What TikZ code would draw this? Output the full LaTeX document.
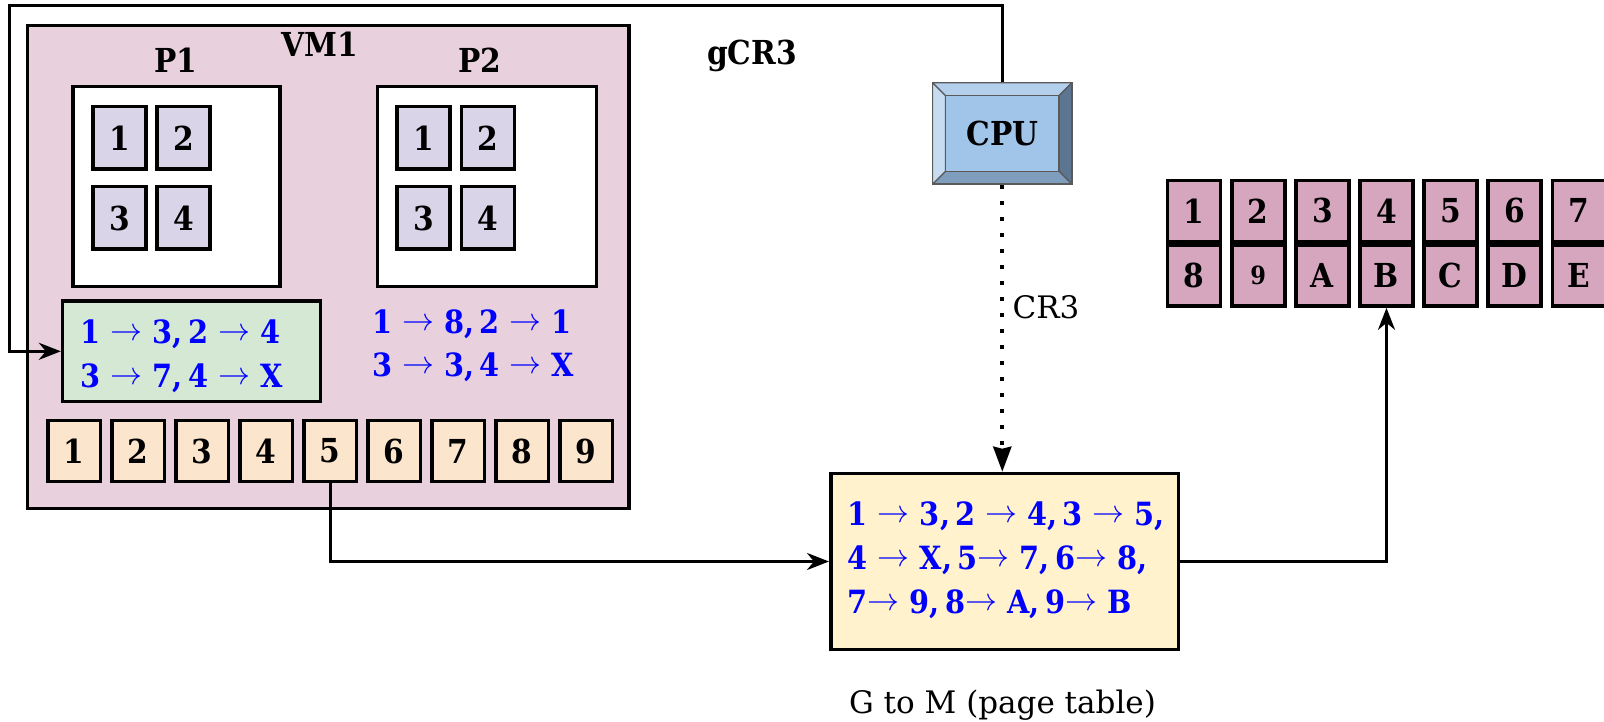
\documentclass[tikz,border=0pt]{standalone}
\usepackage{fix-cm}
\usepackage{fontspec}
\setmainfont{DejaVu Serif}
\IfFontExistsTF{DejaVu Serif Condensed}
  {\newfontfamily\condfont{DejaVu Serif Condensed}}
  {\newfontfamily\condfont{DejaVu Serif}[FakeStretch=0.9]}
\usetikzlibrary{arrows.meta}

\definecolor{vmfill}{HTML}{E8D1DD}
\definecolor{pagefill}{HTML}{D9D4E8}
\definecolor{gptfill}{HTML}{D5E8D4}
\definecolor{gpagefill}{HTML}{FCE5CD}
\definecolor{mpagefill}{HTML}{D6A6BF}
\definecolor{eptfill}{HTML}{FFF2CC}
\definecolor{maptext}{HTML}{0000FF}
\definecolor{cputop}{HTML}{B3CFEB}
\definecolor{cpuleft}{HTML}{C7DCF1}
\definecolor{cpuright}{HTML}{5C7590}
\definecolor{cpubottom}{HTML}{7F9DBD}
\definecolor{cpufront}{HTML}{A1C5E9}
\definecolor{cpuedge}{HTML}{5A5A5A}

\newcommand\toarr{\raisebox{3pt}{$\rightarrow$}}
\newcommand\smallnine{{\fontsize{25}{25}\selectfont 9}}

\tikzset{
  lbl/.style={font=\condfont\bfseries\fontsize{33}{40}\selectfont},
  plainlbl/.style={font=\rmfamily\fontsize{31}{40}\selectfont},
  maptxt/.style={font=\condfont\bfseries\fontsize{32}{44}\selectfont, text=maptext, inner sep=0},
  boxline/.style={draw=black, line width=3.5pt},
  bigbox/.style={boxline, inner sep=0},
  cell/.style={boxline, inner sep=0, lbl},
  vpage/.style={cell, fill=pagefill, minimum width=53pt, minimum height=62.5pt},
  gpage/.style={cell, fill=gpagefill, minimum width=52.5pt, minimum height=61pt},
  mpage/.style={cell, fill=mpagefill, minimum width=53pt, minimum height=61pt},
  conn/.style={line width=3pt, -{Stealth[length=22pt,width=17pt,inset=7pt]}},
  dotconn/.style={line width=4pt, dash pattern=on 4pt off 12pt,
    -{Stealth[length=25pt,width=18pt,inset=2pt]}},
  cpubox/.style={minimum width=139.5pt, minimum height=101.5pt, inner sep=0,
    draw=cpuedge, line width=1.5pt, lbl,
    path picture={
      \path (path picture bounding box.north west) coordinate (cnw)
            (path picture bounding box.north east) coordinate (cne)
            (path picture bounding box.south east) coordinate (cse)
            (path picture bounding box.south west) coordinate (csw);
      \coordinate (inw) at ([shift={(13pt,-13pt)}]cnw);
      \coordinate (ine) at ([shift={(-13pt,-13pt)}]cne);
      \coordinate (ise) at ([shift={(-13pt,13pt)}]cse);
      \coordinate (isw) at ([shift={(13pt,13pt)}]csw);
      \filldraw[fill=cputop, draw=cpuedge, line width=1.2pt] (cnw) -- (cne) -- (ine) -- (inw) -- cycle;
      \filldraw[fill=cpuright, draw=cpuedge, line width=1.2pt] (cne) -- (cse) -- (ise) -- (ine) -- cycle;
      \filldraw[fill=cpubottom, draw=cpuedge, line width=1.2pt] (cse) -- (csw) -- (isw) -- (ise) -- cycle;
      \filldraw[fill=cpuleft, draw=cpuedge, line width=1.2pt] (csw) -- (cnw) -- (inw) -- (isw) -- cycle;
      \filldraw[fill=cpufront, draw=cpuedge, line width=1.4pt] (inw) rectangle (ise);
    }},
}

\begin{document}
\begin{tikzpicture}[x=1pt, y=-1pt]
\useasboundingbox (0,0) rectangle (1604,722);

% guest VM with its two processes
\node[bigbox, fill=vmfill, minimum width=601.5pt, minimum height=482.5pt] (vm) at (328.2,267) {};
\node[lbl, anchor=base] (vmlbl) at (320,57) {VM1};
\node[lbl, anchor=base] (p1lbl) at (176,73) {P1};
\node[lbl, anchor=base] (p2lbl) at (480,73) {P2};
\node[bigbox, fill=white, minimum width=206.7pt, minimum height=199.5pt] (p1) at (176.5,186.5) {};
\node[bigbox, fill=white, minimum width=219pt, minimum height=199.5pt] (p2) at (486.8,186.5) {};
\foreach \n/\x/\y in {1/119.6/138, 2/183.4/138, 3/119.6/218, 4/183.4/218}
  \node[vpage] (pa\n) at (\x,\y) {\n};
\foreach \n/\x/\y in {1/423.6/138, 2/487.8/138, 3/423.6/218, 4/487.8/218}
  \node[vpage] (pb\n) at (\x,\y) {\n};

% guest page table of P1
\node[bigbox, fill=gptfill, minimum width=258pt, minimum height=100.5pt] (gpt) at (191.6,351.3) {};
\node[maptxt, anchor=base west] (g1) at (80.4,343.3) {1 \toarr{} 3,\,2 \toarr{} 4};
\node[maptxt, anchor=base west] (g2) at (80.4,387.3) {3 \toarr{} 7,\,4 \toarr{} X};

% mapping of P2
\node[maptxt, anchor=base west] (q1) at (372.2,333.3) {1 \toarr{} 8,\,2 \toarr{} 1};
\node[maptxt, anchor=base west] (q2) at (372.2,376.7) {3 \toarr{} 3,\,4 \toarr{} X};

% guest physical pages
\foreach \n in {1,...,9}
  \node[gpage] (o\n) at ({10+64*\n},451) {\n};

% CPU
\node[cpubox] (cpu) at (1002.3,133.5) {CPU};
\node[lbl, anchor=base] (gcr) at (752,65) {gCR3};
\node[plainlbl, anchor=base west] (cr) at (1009,318.8) {CR3};

% extended page table
\node[bigbox, fill=eptfill, minimum width=347.5pt, minimum height=176pt] (ept) at (1004.5,561.5) {};
\node[maptxt, anchor=base west] (y1) at (847.7,525) {1 \toarr{} 3,\,2 \toarr{} 4,\,3 \toarr{} 5,};
\node[maptxt, anchor=base west] (y2) at (847.7,569.3) {4 \toarr{} X,\,5\toarr{} 7,\,6\toarr{} 8,};
\node[maptxt, anchor=base west] (y3) at (847.7,613.5) {7\toarr{} 9,\,8\toarr{} A,\,9\toarr{} B};
\node[plainlbl, anchor=base] (eptlbl) at (1002.5,713) {G to M (page table)};

% machine pages
\foreach \i in {1,...,7}
  \node[mpage] (m\i) at ({1130.1+64.1*\i},210.9) {\i};
\foreach \i/\t in {0/8,2/A,3/B,4/C,5/D,6/E}
  \node[mpage] (m\t) at ({1194.2+64.1*\i},275.6) {\t};
\node[mpage] (m9) at (1258.3,275.6) {\smallnine};

% connectors
\coordinate (loop) at (9.8,5.3);
\draw[conn] (cpu.north) |- (loop) |- (gpt.west);
\draw[dotconn] (cpu.south) -- (cpu.south |- ept.north);
\draw[conn] (o5.south) |- (ept.west);
\draw[conn] (ept.east) -| (mB.south);
\end{tikzpicture}
\end{document}
